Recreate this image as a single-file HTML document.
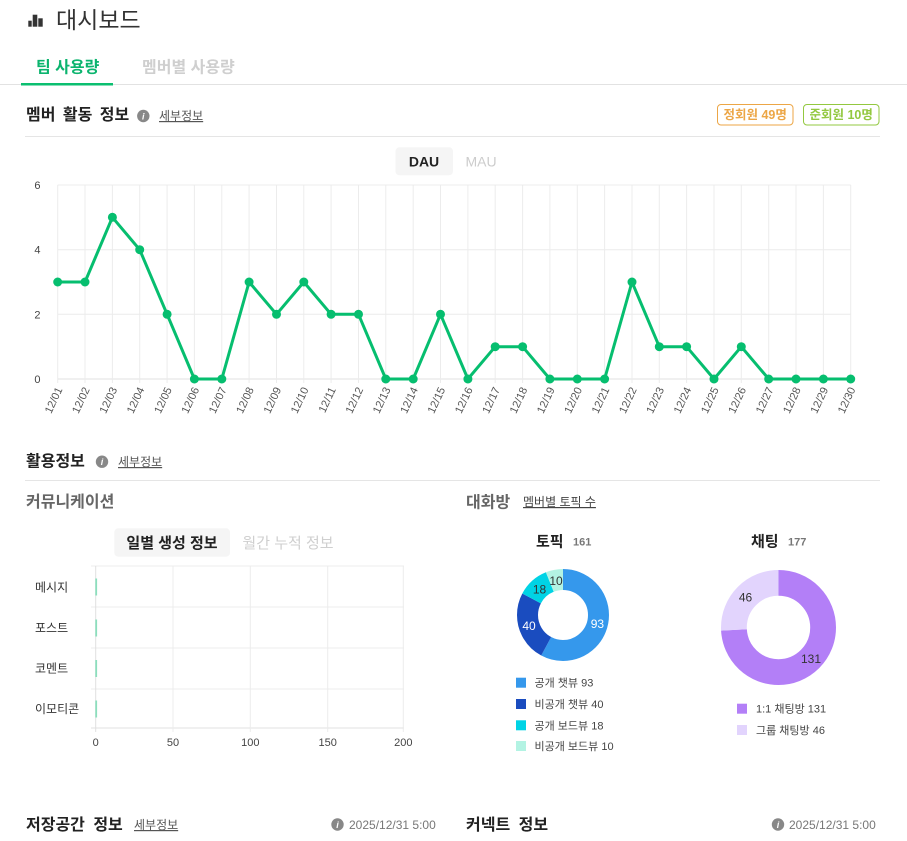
<!DOCTYPE html>
<html><head><meta charset="utf-8"><style>
html,body{margin:0;padding:0;background:#fff;width:907px;height:841px;overflow:hidden}
svg{display:block}
text{font-family:"Liberation Sans","Noto Sans CJK KR",sans-serif}
</style></head><body>
<svg width="907" height="841" viewBox="0 0 907 841" xmlns="http://www.w3.org/2000/svg">
<!-- header -->
<rect x="28.3" y="20.7" width="3.4" height="6" fill="#333"/>
<rect x="32.7" y="14.7" width="4.6" height="12" fill="#333"/>
<rect x="38.3" y="18.3" width="4.4" height="8.4" fill="#333"/>
<text x="56" y="28" font-size="23" fill="#333">대시보드</text>
<!-- tabs -->
<text x="36" y="72.5" font-size="16" font-weight="bold" fill="#0bb46e">팀 사용량</text>
<text x="142" y="72.5" font-size="16" font-weight="bold" fill="#cfcfcf">멤버별 사용량</text>
<rect x="0" y="84" width="907" height="1" fill="#e2e2e2"/>
<rect x="21" y="83" width="92" height="2.5" fill="#0bbf70"/>
<!-- member activity -->
<text x="26" y="120" font-size="16" font-weight="bold" fill="#222" word-spacing="3">멤버 활동 정보</text>
<circle cx="143.3" cy="116" r="6.2" fill="#888"/>
<text x="143.3" y="119.5" font-size="9" font-weight="bold" font-style="italic" fill="#fff" text-anchor="middle" font-family="Liberation Serif,serif">i</text>
<text x="159" y="120" font-size="12" fill="#555" text-decoration="underline">세부정보</text>
<rect x="717.5" y="104.5" width="75.5" height="20.5" rx="3.5" fill="#fff" stroke="#eca646" stroke-width="1"/>
<text x="755.2" y="119" font-size="12.5" font-weight="bold" fill="#eca646" text-anchor="middle">정회원 49명</text>
<rect x="803.5" y="104.5" width="75.5" height="20.5" rx="3.5" fill="#fff" stroke="#93c840" stroke-width="1"/>
<text x="841.2" y="119" font-size="12.5" font-weight="bold" fill="#93c840" text-anchor="middle">준회원 10명</text>
<rect x="25" y="136" width="855" height="1" fill="#e5e5e5"/>
<rect x="395.5" y="147.3" width="57.5" height="28" rx="4" fill="#f5f5f5"/>
<text x="424" y="166.5" font-size="14" font-weight="bold" fill="#222" text-anchor="middle">DAU</text>
<text x="481" y="166.5" font-size="14" fill="#ccc" text-anchor="middle">MAU</text>
<!-- line chart grid -->
<g stroke="#ececec" stroke-width="1">
<line x1="57.7" y1="185" x2="850.7" y2="185"/>
<line x1="57.7" y1="249.7" x2="850.7" y2="249.7"/>
<line x1="57.7" y1="314.3" x2="850.7" y2="314.3"/>
<line x1="57.7" y1="379" x2="850.7" y2="379" stroke="#e0e0e0"/>
<line x1="57.7" y1="185" x2="57.7" y2="383"/><line x1="85" y1="185" x2="85" y2="383"/><line x1="112.4" y1="185" x2="112.4" y2="383"/><line x1="139.7" y1="185" x2="139.7" y2="383"/><line x1="167.1" y1="185" x2="167.1" y2="383"/><line x1="194.4" y1="185" x2="194.4" y2="383"/><line x1="221.8" y1="185" x2="221.8" y2="383"/><line x1="249.1" y1="185" x2="249.1" y2="383"/><line x1="276.5" y1="185" x2="276.5" y2="383"/><line x1="303.8" y1="185" x2="303.8" y2="383"/><line x1="331.1" y1="185" x2="331.1" y2="383"/><line x1="358.5" y1="185" x2="358.5" y2="383"/><line x1="385.8" y1="185" x2="385.8" y2="383"/><line x1="413.2" y1="185" x2="413.2" y2="383"/><line x1="440.5" y1="185" x2="440.5" y2="383"/><line x1="467.9" y1="185" x2="467.9" y2="383"/><line x1="495.2" y1="185" x2="495.2" y2="383"/><line x1="522.6" y1="185" x2="522.6" y2="383"/><line x1="549.9" y1="185" x2="549.9" y2="383"/><line x1="577.3" y1="185" x2="577.3" y2="383"/><line x1="604.6" y1="185" x2="604.6" y2="383"/><line x1="632" y1="185" x2="632" y2="383"/><line x1="659.3" y1="185" x2="659.3" y2="383"/><line x1="686.6" y1="185" x2="686.6" y2="383"/><line x1="714" y1="185" x2="714" y2="383"/><line x1="741.3" y1="185" x2="741.3" y2="383"/><line x1="768.7" y1="185" x2="768.7" y2="383"/><line x1="796" y1="185" x2="796" y2="383"/><line x1="823.4" y1="185" x2="823.4" y2="383"/><line x1="850.7" y1="185" x2="850.7" y2="383"/>
</g>
<g font-size="11" fill="#444" text-anchor="end">
<text x="40.5" y="189">6</text><text x="40.5" y="253.7">4</text><text x="40.5" y="318.3">2</text><text x="40.5" y="383">0</text>
</g>
<g font-size="11" fill="#555" text-anchor="end" dominant-baseline="central">
<text transform="translate(60,388) rotate(-65)">12/01</text>
<text transform="translate(87.3,388) rotate(-65)">12/02</text>
<text transform="translate(114.7,388) rotate(-65)">12/03</text>
<text transform="translate(142,388) rotate(-65)">12/04</text>
<text transform="translate(169.4,388) rotate(-65)">12/05</text>
<text transform="translate(196.7,388) rotate(-65)">12/06</text>
<text transform="translate(224.1,388) rotate(-65)">12/07</text>
<text transform="translate(251.4,388) rotate(-65)">12/08</text>
<text transform="translate(278.8,388) rotate(-65)">12/09</text>
<text transform="translate(306.1,388) rotate(-65)">12/10</text>
<text transform="translate(333.4,388) rotate(-65)">12/11</text>
<text transform="translate(360.8,388) rotate(-65)">12/12</text>
<text transform="translate(388.1,388) rotate(-65)">12/13</text>
<text transform="translate(415.5,388) rotate(-65)">12/14</text>
<text transform="translate(442.8,388) rotate(-65)">12/15</text>
<text transform="translate(470.2,388) rotate(-65)">12/16</text>
<text transform="translate(497.5,388) rotate(-65)">12/17</text>
<text transform="translate(524.9,388) rotate(-65)">12/18</text>
<text transform="translate(552.2,388) rotate(-65)">12/19</text>
<text transform="translate(579.6,388) rotate(-65)">12/20</text>
<text transform="translate(606.9,388) rotate(-65)">12/21</text>
<text transform="translate(634.3,388) rotate(-65)">12/22</text>
<text transform="translate(661.6,388) rotate(-65)">12/23</text>
<text transform="translate(688.9,388) rotate(-65)">12/24</text>
<text transform="translate(716.3,388) rotate(-65)">12/25</text>
<text transform="translate(743.6,388) rotate(-65)">12/26</text>
<text transform="translate(771,388) rotate(-65)">12/27</text>
<text transform="translate(798.3,388) rotate(-65)">12/28</text>
<text transform="translate(825.7,388) rotate(-65)">12/29</text>
<text transform="translate(853,388) rotate(-65)">12/30</text>
</g>
<polyline fill="none" stroke="#06be6f" stroke-width="3" stroke-linejoin="round" points="57.7,282 85,282 112.4,217.3 139.7,249.7 167.1,314.3 194.4,379 221.8,379 249.1,282 276.5,314.3 303.8,282 331.1,314.3 358.5,314.3 385.8,379 413.2,379 440.5,314.3 467.9,379 495.2,346.7 522.6,346.7 549.9,379 577.3,379 604.6,379 632,282 659.3,346.7 686.6,346.7 714,379 741.3,346.7 768.7,379 796,379 823.4,379 850.7,379"/>
<g fill="#06be6f">
<circle cx="57.7" cy="282" r="4.5"/><circle cx="85" cy="282" r="4.5"/><circle cx="112.4" cy="217.3" r="4.5"/><circle cx="139.7" cy="249.7" r="4.5"/><circle cx="167.1" cy="314.3" r="4.5"/><circle cx="194.4" cy="379" r="4.5"/><circle cx="221.8" cy="379" r="4.5"/><circle cx="249.1" cy="282" r="4.5"/><circle cx="276.5" cy="314.3" r="4.5"/><circle cx="303.8" cy="282" r="4.5"/><circle cx="331.1" cy="314.3" r="4.5"/><circle cx="358.5" cy="314.3" r="4.5"/><circle cx="385.8" cy="379" r="4.5"/><circle cx="413.2" cy="379" r="4.5"/><circle cx="440.5" cy="314.3" r="4.5"/><circle cx="467.9" cy="379" r="4.5"/><circle cx="495.2" cy="346.7" r="4.5"/><circle cx="522.6" cy="346.7" r="4.5"/><circle cx="549.9" cy="379" r="4.5"/><circle cx="577.3" cy="379" r="4.5"/><circle cx="604.6" cy="379" r="4.5"/><circle cx="632" cy="282" r="4.5"/><circle cx="659.3" cy="346.7" r="4.5"/><circle cx="686.6" cy="346.7" r="4.5"/><circle cx="714" cy="379" r="4.5"/><circle cx="741.3" cy="346.7" r="4.5"/><circle cx="768.7" cy="379" r="4.5"/><circle cx="796" cy="379" r="4.5"/><circle cx="823.4" cy="379" r="4.5"/><circle cx="850.7" cy="379" r="4.5"/>
</g>
<!-- usage info -->
<text x="26" y="466.7" font-size="16" font-weight="bold" fill="#222">활용정보</text>
<circle cx="102" cy="461.7" r="6.2" fill="#888"/>
<text x="102" y="465.2" font-size="9" font-weight="bold" font-style="italic" fill="#fff" text-anchor="middle" font-family="Liberation Serif,serif">i</text>
<text x="118" y="466" font-size="12" fill="#555" text-decoration="underline">세부정보</text>
<rect x="25" y="480" width="855" height="1" fill="#e5e5e5"/>
<text x="26" y="507" font-size="16" font-weight="bold" fill="#666">커뮤니케이션</text>
<rect x="114.3" y="528.3" width="115.7" height="28.4" rx="4" fill="#f5f5f5"/>
<text x="172" y="548" font-size="15" font-weight="bold" fill="#222" text-anchor="middle">일별 생성 정보</text>
<text x="288" y="548" font-size="15" fill="#cfcfcf" text-anchor="middle">월간 누적 정보</text>
<!-- bar chart -->
<g stroke="#ececec" stroke-width="1">
<line x1="91" y1="566" x2="404" y2="566"/>
<line x1="91" y1="607" x2="404" y2="607"/>
<line x1="91" y1="648" x2="404" y2="648"/>
<line x1="91" y1="689" x2="404" y2="689"/>
<line x1="91" y1="728" x2="404" y2="728" stroke="#e0e0e0"/>
<line x1="95.7" y1="566" x2="95.7" y2="732" stroke="#e0e0e0"/>
<line x1="173" y1="566" x2="173" y2="732"/>
<line x1="250.3" y1="566" x2="250.3" y2="732"/>
<line x1="327.7" y1="566" x2="327.7" y2="732"/>
<line x1="403.3" y1="566" x2="403.3" y2="732"/>
</g>
<g fill="#8bdfbd">
<rect x="95.3" y="578.5" width="1.8" height="17"/>
<rect x="95.3" y="619.5" width="1.8" height="17"/>
<rect x="95.3" y="660" width="1.8" height="17"/>
<rect x="95.3" y="700.5" width="1.8" height="17"/>
</g>
<g font-size="12" fill="#333">
<text x="35" y="591.5">메시지</text>
<text x="35" y="632">포스트</text>
<text x="35" y="672.5">코멘트</text>
<text x="35" y="713">이모티콘</text>
</g>
<g font-size="11" fill="#444" text-anchor="middle">
<text x="95.7" y="746">0</text><text x="173" y="746">50</text><text x="250.3" y="746">100</text><text x="327.7" y="746">150</text><text x="403.3" y="746">200</text>
</g>
<!-- chat rooms -->
<text x="466" y="507.5" font-size="16" font-weight="bold" fill="#666">대화방</text>
<text x="523" y="506" font-size="12" fill="#444" text-decoration="underline">멤버별 토픽 수</text>
<text x="536" y="546.7" font-size="15" font-weight="bold" fill="#222">토픽</text>
<text x="573" y="545.5" font-size="11" font-weight="bold" fill="#777">161</text>
<text x="751" y="546.5" font-size="15" font-weight="bold" fill="#222">채팅</text>
<text x="788" y="545.5" font-size="11" font-weight="bold" fill="#777">177</text>
<g transform="rotate(-90 563 615)" fill="none" stroke-width="21">
<circle cx="563" cy="615" r="35.5" stroke="#3598ec" stroke-dasharray="128.84 300" stroke-dashoffset="0"/>
<circle cx="563" cy="615" r="35.5" stroke="#1a4cbf" stroke-dasharray="55.42 300" stroke-dashoffset="-128.84"/>
<circle cx="563" cy="615" r="35.5" stroke="#00d3e5" stroke-dasharray="24.94 300" stroke-dashoffset="-184.26"/>
<circle cx="563" cy="615" r="35.5" stroke="#b3f3e3" stroke-dasharray="13.85 300" stroke-dashoffset="-209.2"/>
</g>
<g font-size="12" text-anchor="middle">
<text x="597.4" y="628" fill="#fff">93</text>
<text x="529" y="630" fill="#fff">40</text>
<text x="539.5" y="593.5" fill="#333">18</text>
<text x="556" y="585" fill="#333">10</text>
</g>
<g transform="rotate(-90 778.5 627.5)" fill="none" stroke-width="25.8">
<circle cx="778.5" cy="627.5" r="44.6" stroke="#b37ff7" stroke-dasharray="207.4 400" stroke-dashoffset="0"/>
<circle cx="778.5" cy="627.5" r="44.6" stroke="#e2d4fd" stroke-dasharray="72.83 400" stroke-dashoffset="-207.4"/>
</g>
<g font-size="12" text-anchor="middle" fill="#333">
<text x="811" y="663">131</text>
<text x="745.5" y="601.5">46</text>
</g>
<g font-size="11" fill="#444">
<rect x="516" y="677.7" width="10" height="10" fill="#3598ec"/><text x="534.5" y="686.7">공개 챗뷰 93</text>
<rect x="516" y="699" width="10" height="10" fill="#1a4cbf"/><text x="534.5" y="708">비공개 챗뷰 40</text>
<rect x="516" y="720.3" width="10" height="10" fill="#00d3e5"/><text x="534.5" y="729.3">공개 보드뷰 18</text>
<rect x="516" y="741" width="10" height="10" fill="#b3f3e3"/><text x="534.5" y="750">비공개 보드뷰 10</text>
<rect x="737" y="703.7" width="10" height="10" fill="#b37ff7"/><text x="756" y="712.7">1:1 채팅방 131</text>
<rect x="737" y="725" width="10" height="10" fill="#e2d4fd"/><text x="756" y="734">그룹 채팅방 46</text>
</g>
<!-- bottom -->
<text x="26" y="830" font-size="16" font-weight="bold" fill="#222" word-spacing="4">저장공간 정보</text>
<text x="134" y="829" font-size="12" fill="#555" text-decoration="underline">세부정보</text>
<circle cx="337.5" cy="824.5" r="6.2" fill="#888"/>
<text x="337.5" y="828" font-size="9" font-weight="bold" font-style="italic" fill="#fff" text-anchor="middle" font-family="Liberation Serif,serif">i</text>
<text x="349" y="829" font-size="12" fill="#777">2025/12/31 5:00</text>
<text x="466" y="830" font-size="16" font-weight="bold" fill="#222" word-spacing="4">커넥트 정보</text>
<circle cx="778" cy="824.5" r="6.2" fill="#888"/>
<text x="778" y="828" font-size="9" font-weight="bold" font-style="italic" fill="#fff" text-anchor="middle" font-family="Liberation Serif,serif">i</text>
<text x="789" y="829" font-size="12" fill="#777">2025/12/31 5:00</text>
</svg>
</body></html>
